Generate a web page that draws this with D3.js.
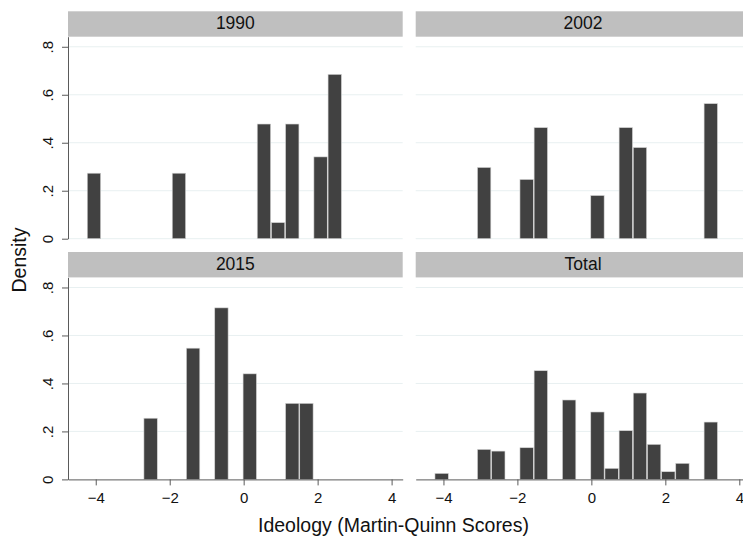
<!DOCTYPE html>
<html>
<head>
<meta charset="utf-8">
<script src="https://cdn.jsdelivr.net/npm/d3@7"></script>
<style>
  body { margin: 0; background: #fff; }
  svg { display: block; font-family: "Liberation Sans", Arial, Helvetica, sans-serif; }
</style>
</head>
<body>
<svg id="graphic" width="743" height="538"></svg>
<script>
// histogram bins shared by every panel
var binStart = -4.24;
var binWidth = 0.383;

var panelNames = ["1990", "2002", "2015", "Total"];

// density per bin (20 bins)
var density1990 = [0.273, 0, 0, 0, 0, 0, 0.273, 0, 0, 0, 0, 0, 0.478, 0.067, 0.478, 0, 0.341, 0.685, 0, 0];
var density2002 = [0, 0, 0, 0.297, 0, 0, 0.247, 0.463, 0, 0, 0, 0.18, 0, 0.463, 0.38, 0, 0, 0, 0, 0.563];
var density2015 = [0, 0, 0, 0, 0.255, 0, 0, 0.547, 0, 0.715, 0, 0.44, 0, 0, 0.317, 0.317, 0, 0, 0, 0];
var densityTotal = [0.025, 0, 0, 0.125, 0.118, 0, 0.132, 0.453, 0, 0.331, 0, 0.281, 0.046, 0.203, 0.36, 0.146, 0.032, 0.067, 0, 0.239];

var xTicks = [-4, -2, 0, 2, 4];
var yTicks = [0, 0.2, 0.4, 0.6, 0.8];

var seriesByPanel = [density1990, density2002, density2015, densityTotal];

var svg = d3.select("#graphic");

var colLeft = [68, 415.7];
var rowTop = [11.3, 252];
var panelW = 334.7;
var headerH = 25.4;
var plotH = 202;

var x = d3.scaleLinear().domain([-4.75, 4.30]).range([0, panelW]);
var y = d3.scaleLinear().domain([0, 0.842]).range([plotH, 0]);

var axisColor = "#5a5a5a";
var gridColor = "#e8f0f1";

panelNames.forEach(function (name, i) {
  var col = i % 2;
  var row = Math.floor(i / 2);
  var g = svg.append("g")
    .attr("transform", "translate(" + colLeft[col] + "," + rowTop[row] + ")");

  // strip header
  g.append("rect")
    .attr("x", 0)
    .attr("y", 0)
    .attr("width", panelW)
    .attr("height", headerH)
    .attr("fill", "#bfbfbf");

  g.append("text")
    .attr("x", panelW / 2)
    .attr("y", 17.8)
    .attr("text-anchor", "middle")
    .attr("font-size", "17.5px")
    .attr("fill", "#111")
    .text(name);

  var plot = g.append("g").attr("transform", "translate(0," + headerH + ")");

  // gridlines
  var gridVals = row == 0 ? yTicks : yTicks.slice(1);
  plot.append("g")
    .selectAll("line")
    .data(gridVals)
    .enter()
    .append("line")
    .attr("x1", 0)
    .attr("x2", panelW)
    .attr("y1", function (d) { return y(d); })
    .attr("y2", function (d) { return y(d); })
    .attr("stroke", gridColor)
    .attr("stroke-width", 1);

  // bars
  var bins = seriesByPanel[i].map(function (v, k) {
    return { x0: binStart + k * binWidth, x1: binStart + (k + 1) * binWidth, value: v };
  }).filter(function (d) { return d.value > 0; });

  plot.append("g")
    .selectAll("rect")
    .data(bins)
    .enter()
    .append("rect")
    .attr("x", function (d) { return x(d.x0) + 0.4; })
    .attr("width", function (d) { return x(d.x1) - x(d.x0) - 0.8; })
    .attr("y", function (d) { return y(d.value); })
    .attr("height", function (d) { return y(0) - y(d.value); })
    .attr("fill", "#414141")
    .attr("stroke", "#d4d4d4")
    .attr("stroke-width", 0.6);

  // y axis on left column
  if (col == 0) {
    var ya = plot.append("g")
      .call(d3.axisLeft(y)
        .tickValues(yTicks)
        .tickSize(6)
        .tickSizeOuter(0)
        .tickFormat(function (d) { return d == 0 ? "0" : d3.format(".1f")(d).replace(/^0/, ""); }));
    ya.select(".domain").attr("stroke", axisColor);
    ya.selectAll(".tick line").attr("stroke", axisColor);
    ya.selectAll(".tick text")
      .attr("x", null)
      .attr("y", 0)
      .attr("dy", "0.35em")
      .attr("text-anchor", "middle")
      .attr("transform", "translate(-20,0) rotate(-90)")
      .attr("font-size", "15px")
      .attr("font-family", null)
      .attr("fill", "#111");
  }

  // x axis on bottom row
  if (row == 1) {
    var xa = plot.append("g")
      .attr("transform", "translate(0," + plotH + ")")
      .call(d3.axisBottom(x)
        .tickValues(xTicks)
        .tickSize(6)
        .tickSizeOuter(0)
        .tickPadding(7)
        .tickFormat(d3.format("d")));
    xa.select(".domain").attr("stroke", axisColor);
    xa.selectAll(".tick line").attr("stroke", axisColor);
    xa.selectAll(".tick text")
      .attr("font-size", "15px")
      .attr("font-family", null)
      .attr("fill", "#111");
  }
});

// axis titles
svg.append("text")
  .attr("transform", "translate(19,260) rotate(-90)")
  .attr("dy", "0.35em")
  .attr("text-anchor", "middle")
  .attr("font-size", "19.5px")
  .attr("fill", "#111")
  .text("Density");

svg.append("text")
  .attr("x", 393.5)
  .attr("y", 532)
  .attr("text-anchor", "middle")
  .attr("font-size", "19.5px")
  .attr("fill", "#111")
  .text("Ideology (Martin-Quinn Scores)");
</script>
</body>
</html>
